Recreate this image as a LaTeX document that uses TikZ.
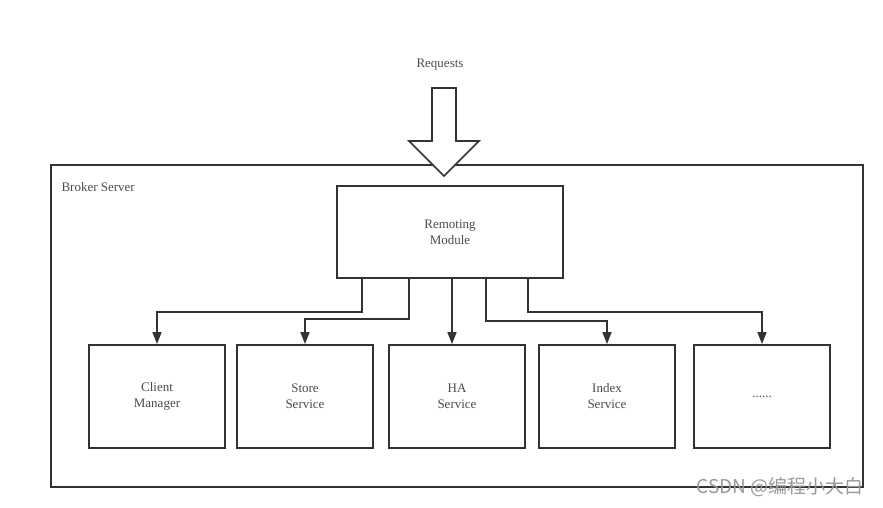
\documentclass[tikz,border=0pt]{standalone}
\usepackage{fontspec}
\setmainfont{Liberation Serif}
\newfontfamily\cjkfont{Noto Sans CJK SC}
\usetikzlibrary{arrows.meta}

\newlength{\du}
\setlength{\du}{1pt}

\definecolor{linecolor}{rgb}{0.200000, 0.200000, 0.200000}
\definecolor{textcolor}{rgb}{0.300000, 0.300000, 0.300000}
\tikzset{
  box/.style={draw=linecolor, line width=1.8\du, fill=white, minimum width=136\du, minimum height=103\du,
    inner sep=0pt, align=center, text=textcolor, font=\fontsize{13}{16}\selectfont},
  conn/.style={draw=linecolor, line width=1.6\du, -{Triangle[length=12pt,width=9pt]}},
}

\begin{document}
\begin{tikzpicture}
\pgftransformxscale{1.000000}
\pgftransformyscale{-1.000000}
\useasboundingbox (0\du,0\du) rectangle (883\du,507\du);
% outer box
\node[draw=linecolor, line width=1.6\du, minimum width=812\du, minimum height=322\du, inner sep=0pt] (broker) at (457\du,326\du){};
\node[anchor=west, text=textcolor, font=\fontsize{13}{16}\selectfont] (brokerlabel) at (58\du,187\du){Broker Server};
% requests arrow
\node[text=textcolor, font=\fontsize{13}{16}\selectfont] (requests) at (440\du,65\du){Requests};
\filldraw[draw=linecolor, fill=white, line width=1.6\du, line join=miter] (432\du,88\du)--(456\du,88\du)--(456\du,141\du)--(479\du,141\du)--(444\du,176\du)--(409\du,141\du)--(432\du,141\du)--cycle;
% remoting module
\node[box, minimum width=226\du, minimum height=92\du] (rm) at (450\du,232\du){Remoting\\Module};
% services
\node[box] (cm) at (157\du,396.5\du){Client\\Manager};
\node[box] (ss) at (305\du,396.5\du){Store\\Service};
\node[box] (ha) at (457\du,396.5\du){HA\\Service};
\node[box] (is) at (607\du,396.5\du){Index\\Service};
\node[box] (more) at (762\du,396.5\du){......};
% connectors
\draw[conn] ([xshift=-88\du]rm.south) -- ++(0\du,33\du) -| (cm.north);
\draw[conn] ([xshift=-41\du]rm.south) -- ++(0\du,40\du) -| (ss.north);
\draw[conn] ([xshift=2\du]rm.south) -- ([xshift=-5\du]ha.north);
\draw[conn] ([xshift=36\du]rm.south) -- ++(0\du,42\du) -| (is.north);
\draw[conn] ([xshift=78\du]rm.south) -- ++(0\du,33\du) -| (more.north);
% watermark
\node[anchor=east, text=black!40, font=\cjkfont\fontsize{19}{20}\selectfont] (mark) at (867\du,487\du){CSDN @编程小大白};
\end{tikzpicture}
\end{document}
